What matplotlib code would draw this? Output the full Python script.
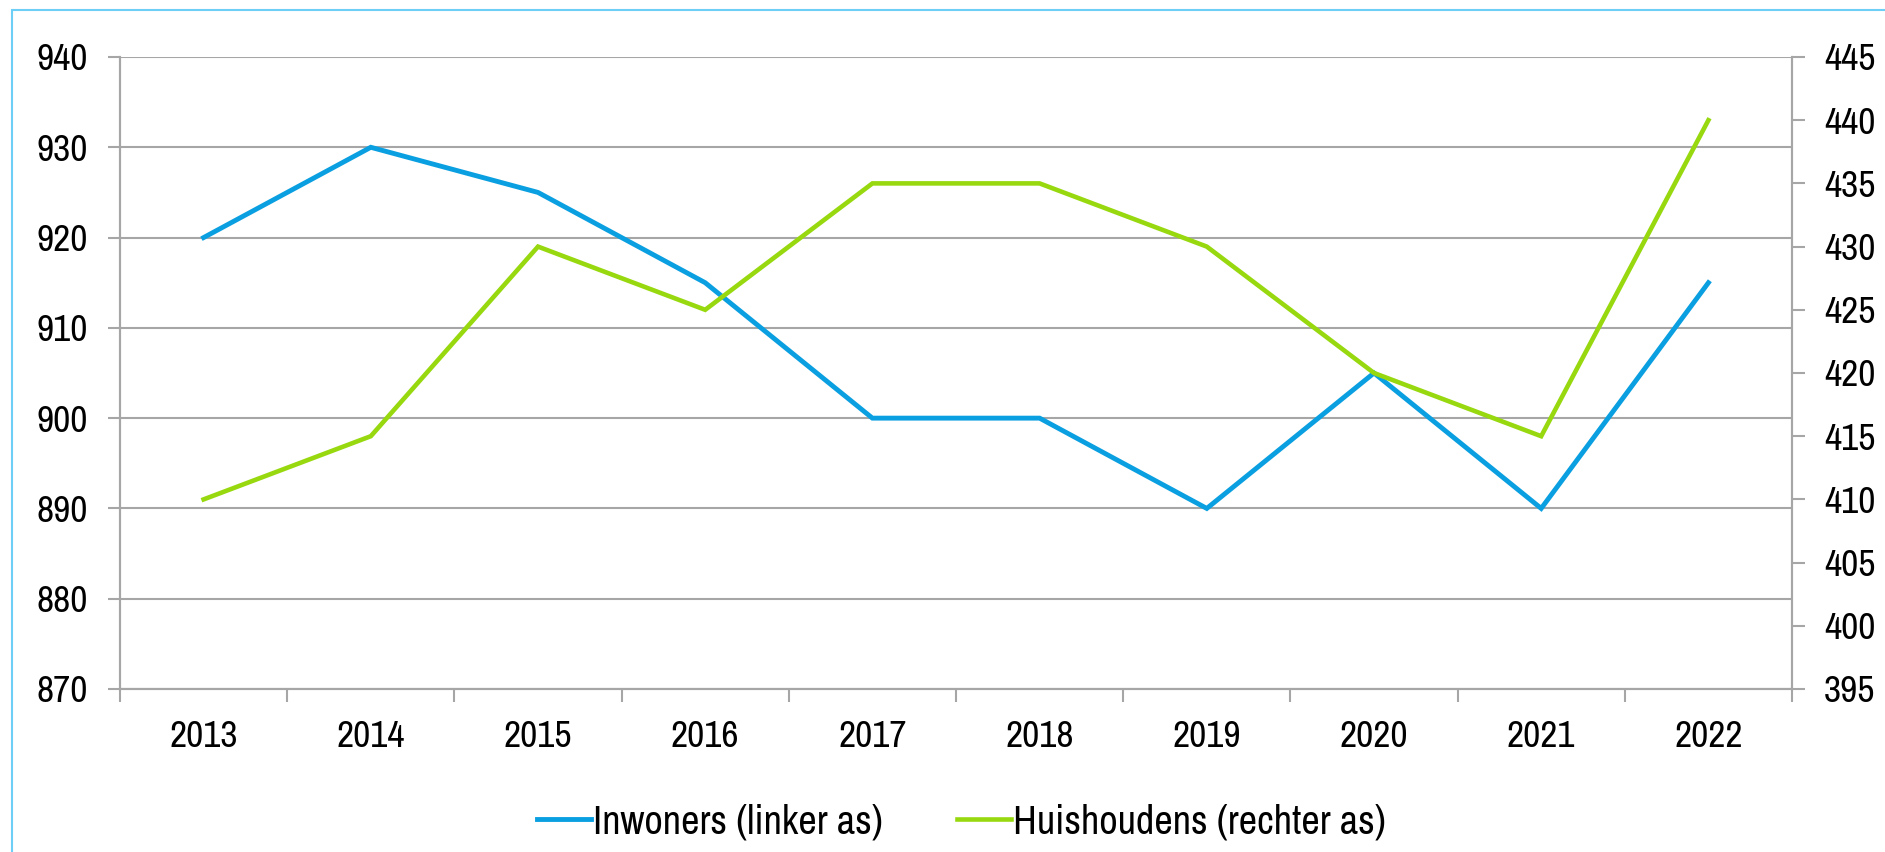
import matplotlib
matplotlib.use('Agg')
import matplotlib.pyplot as plt
import matplotlib.font_manager as fm
from matplotlib.patches import Rectangle
import numpy as np

# Data
jaren = ['2013', '2014', '2015', '2016', '2017', '2018', '2019', '2020', '2021', '2022']
inwoners = [920, 930, 925, 915, 900, 900, 890, 905, 890, 915]
huishoudens = [410, 415, 430, 425, 435, 435, 430, 420, 415, 440]

blauw = '#0a9fe0'
groen = '#97d80f'
grijs = '#a6a6a6'

# look for a narrow font, the original uses a condensed face
fonts = fm.fontManager.ttflist
namen = {f.name for f in fonts}
smal = sorted({f.name for f in fonts if 'Narrow' in f.name or 'Condensed' in f.name})
stretch = 'normal'
if 'Liberation Sans Narrow' in namen:
    familie = 'Liberation Sans Narrow'
elif smal:
    familie = smal[0]
elif any(f.name == 'DejaVu Sans' and f.stretch in ('condensed', 'semi-condensed') for f in fonts):
    familie = 'DejaVu Sans'
    stretch = 'condensed'
else:
    familie = 'Liberation Sans'
plt.rcParams['font.family'] = [familie, 'DejaVu Sans']
plt.rcParams['font.stretch'] = stretch
fs = 27 if familie != 'Liberation Sans' else 25

fig = plt.figure(figsize=(18.85, 8.52), dpi=100)
ax = fig.add_axes([120 / 1885, 1 - 689 / 852, (1792 - 120) / 1885, (689 - 57) / 852])
ax2 = ax.twinx()

x = np.arange(len(jaren))
l1, = ax.plot(x, inwoners, color=blauw, lw=3.5, solid_joinstyle='miter', zorder=3)
l2, = ax2.plot(x, huishoudens, color=groen, lw=3.3, solid_joinstyle='miter', zorder=3)

ax.set_xlim(-0.5, len(jaren) - 0.5)
ax.set_ylim(870, 940)
ax.set_yticks(np.arange(870, 941, 10))
ax2.set_ylim(395, 445)
ax2.set_yticks(np.arange(395, 446, 5))

# category ticks between the years, labels in the middle
ax.set_xticks(np.arange(-0.5, len(jaren), 1))
ax.set_xticklabels([])
ax.set_xticks(x, minor=True)
ax.set_xticklabels(jaren, minor=True, fontsize=fs)
ax.tick_params(axis='x', which='major', length=9, width=1.5, color=grijs, direction='out')
ax.tick_params(axis='x', which='minor', length=0, pad=22)

ax.tick_params(axis='y', length=9, width=1.5, color=grijs, labelsize=fs, pad=14)
ax2.tick_params(axis='y', length=9, width=1.5, color=grijs, labelsize=fs, pad=14)

ax.yaxis.grid(True, color=grijs, lw=1.5)
ax.set_axisbelow(True)

for a in (ax, ax2):
    a.spines['top'].set_visible(False)
    for s in ('left', 'right', 'bottom'):
        a.spines[s].set_color(grijs)
        a.spines[s].set_linewidth(1.5)

fig.legend([l1, l2], ['Inwoners (linker as)', 'Huishoudens (rechter as)'],
           loc='center', bbox_to_anchor=(0.51, 1 - 822 / 852), ncol=2, frameon=False,
           fontsize=fs + 2, handlelength=1.34, handletextpad=0.05, columnspacing=1.85)

# light blue frame, only top and left edge visible
fig.patches.append(Rectangle((12 / 1885, -0.1), 2, 1.1 - 10 / 852, transform=fig.transFigure,
                             fill=False, edgecolor='#6dcff6', lw=1.5))

fig.savefig('out.png', dpi=100, facecolor='white')
